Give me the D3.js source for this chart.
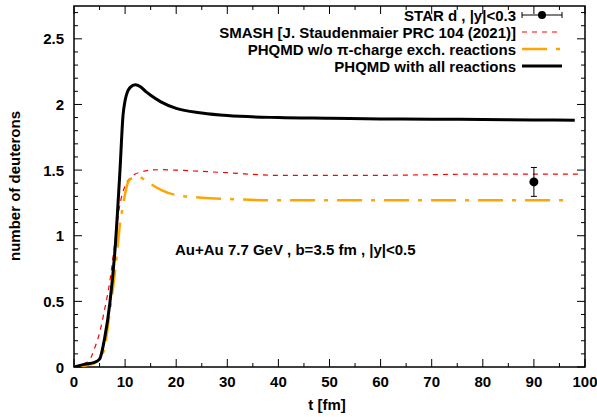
<!DOCTYPE html>
<html><head><meta charset="utf-8">
<script src="https://cdn.jsdelivr.net/npm/d3@7"></script>
<style>body{margin:0;background:#fff}svg{display:block}text{font-family:"Liberation Sans",Arial,Helvetica,sans-serif;font-weight:bold}</style>
</head><body><svg id="c" width="597" height="417"></svg>
<script>
const xTicks = [0,10,20,30,40,50,60,70,80,90,100];
const yTicks = [0,0.5,1,1.5,2,2.5];
const yTickLabels = ["0","0.5","1","1.5","2","2.5"];

const tBlack = [0,2,4,5,6,7,8,9,9.6,10,10.5,11,12,13,14,15,17,20,25,30,40,50,60,70,80,90,98];
const nBlack = [0,0.02,0.035,0.06,0.22,0.48,0.88,1.5,1.92,2.03,2.1,2.13,2.15,2.135,2.1,2.07,2.02,1.97,1.935,1.915,1.9,1.895,1.89,1.888,1.885,1.882,1.88];

const tRed = [0,1,2,3,4,5,6,7,8,9,10,11,12,13,15,17,20,25,30,40,50,60,70,80,90,99];
const nRed = [0,0.01,0.025,0.05,0.14,0.26,0.44,0.65,0.95,1.24,1.38,1.44,1.47,1.485,1.5,1.503,1.5,1.49,1.48,1.46,1.46,1.46,1.465,1.47,1.47,1.47];

const tOrange = [0,2,4,5,6,7,8,8.5,9,9.5,10,10.5,11,12,12.6,13,14,15,17,20,25,30,40,50,60,70,80,90,96.5];
const nOrange = [0,0.01,0.03,0.06,0.15,0.42,0.72,0.9,1.09,1.21,1.32,1.4,1.43,1.445,1.45,1.445,1.42,1.395,1.35,1.31,1.29,1.28,1.27,1.27,1.27,1.27,1.27,1.27,1.27];

const starT = [90];
const starN = [1.41];
const starErr = [0.11];

const legendLabels = ["STAR d , |y|<0.3","SMASH [J. Staudenmaier PRC 104 (2021)]","PHQMD w/o \u03c0-charge exch. reactions","PHQMD with all reactions"];

const FS = 15;
const svg = d3.select("#c");
const L=74,R=585,T=6,B=367;
const x = d3.scaleLinear().domain([0,100]).range([L,R]);
const y = d3.scaleLinear().domain([0,2.75]).range([B,T]);

const g = svg.append("g");
const tickStroke = "#000";
d3.range(0,101,5).forEach(v=>{
  const major = v%10===0, len = major?8:4;
  g.append("line").attr("x1",x(v)).attr("x2",x(v)).attr("y1",B).attr("y2",B-len).attr("stroke",tickStroke).attr("stroke-width",1);
  g.append("line").attr("x1",x(v)).attr("x2",x(v)).attr("y1",T).attr("y2",T+len).attr("stroke",tickStroke).attr("stroke-width",1);
});
d3.range(0,28).map(i=>i/10).forEach((v,i)=>{
  const major = i%5===0, len = major?8:4;
  g.append("line").attr("y1",y(v)).attr("y2",y(v)).attr("x1",L).attr("x2",L+len).attr("stroke",tickStroke).attr("stroke-width",1);
  g.append("line").attr("y1",y(v)).attr("y2",y(v)).attr("x1",R).attr("x2",R-len).attr("stroke",tickStroke).attr("stroke-width",1);
});
xTicks.forEach(v=>{
  g.append("text").attr("x",x(v)).attr("y",B+20).attr("text-anchor","middle").attr("font-size",FS).text(v);
});
yTicks.forEach((v,i)=>{
  g.append("text").attr("x",L-10).attr("y",y(v)+5.5).attr("text-anchor","end").attr("font-size",FS).text(yTickLabels[i]);
});
svg.append("rect").attr("x",L).attr("y",T).attr("width",R-L).attr("height",B-T).attr("fill","none").attr("stroke","#000").attr("stroke-width",1.5);

svg.append("text").attr("x",327).attr("y",410).attr("text-anchor","middle").attr("font-size",FS).text("t [fm]");
svg.append("text").attr("transform",`translate(19.5,186) rotate(-90)`).attr("text-anchor","middle").attr("font-size",FS).text("number of deuterons");

const line = d3.line().curve(d3.curveMonotoneX);
svg.append("clipPath").attr("id","cp").append("rect").attr("x",L).attr("y",T).attr("width",R-L).attr("height",B-T);
const pg = svg.append("g").attr("clip-path","url(#cp)");

pg.append("path").attr("d",line(tRed.map((t,i)=>[x(t),y(nRed[i])]))).attr("fill","none").attr("stroke","#f00").attr("stroke-width",1.2).attr("stroke-dasharray","5,5");
pg.append("path").attr("d",line(tOrange.map((t,i)=>[x(t),y(nOrange[i])]))).attr("fill","none").attr("stroke","#ffa500").attr("stroke-width",2.5).attr("stroke-dasharray","25,9,4,9");
pg.append("path").attr("d",line(tBlack.map((t,i)=>[x(t),y(nBlack[i])]))).attr("fill","none").attr("stroke","#000").attr("stroke-width",3);

starT.forEach((t,i)=>{
  const cx=x(t), y1=y(starN[i]+starErr[i]), y2=y(starN[i]-starErr[i]);
  svg.append("line").attr("x1",cx).attr("x2",cx).attr("y1",y1).attr("y2",y2).attr("stroke","#000").attr("stroke-width",1);
  [y1,y2].forEach(yy=>svg.append("line").attr("x1",cx-3).attr("x2",cx+3).attr("y1",yy).attr("y2",yy).attr("stroke","#000").attr("stroke-width",1));
  svg.append("circle").attr("cx",cx).attr("cy",y(starN[i])).attr("r",4.5).attr("fill","#000");
});

svg.append("text").attr("x",175).attr("y",255).attr("font-size",FS).text("Au+Au 7.7 GeV , b=3.5 fm , |y|<0.5");

const lx1=522,lx2=562, ly=[15,32,49,66];
legendLabels.forEach((s,i)=>{
  svg.append("text").attr("x",516).attr("y",ly[i]+5.5).attr("text-anchor","end").attr("font-size",FS).text(s);
});
svg.append("line").attr("x1",lx1).attr("x2",lx2).attr("y1",ly[0]).attr("y2",ly[0]).attr("stroke","#000").attr("stroke-width",1);
[lx1,lx2].forEach(xx=>svg.append("line").attr("x1",xx).attr("x2",xx).attr("y1",ly[0]-3).attr("y2",ly[0]+3).attr("stroke","#000"));
svg.append("circle").attr("cx",(lx1+lx2)/2).attr("cy",ly[0]).attr("r",4).attr("fill","#000");
svg.append("line").attr("x1",lx1).attr("x2",lx2).attr("y1",ly[1]).attr("y2",ly[1]).attr("stroke","#f00").attr("stroke-width",1.2).attr("stroke-dasharray","5,5");
svg.append("line").attr("x1",lx1).attr("x2",lx2).attr("y1",ly[2]).attr("y2",ly[2]).attr("stroke","#ffa500").attr("stroke-width",2.5).attr("stroke-dasharray","25,9,4,9");
svg.append("line").attr("x1",lx1).attr("x2",lx2).attr("y1",ly[3]).attr("y2",ly[3]).attr("stroke","#000").attr("stroke-width",3);
</script></body></html>
